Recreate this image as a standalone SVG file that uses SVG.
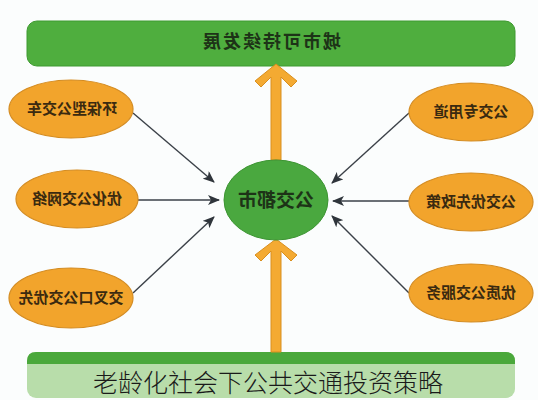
<svg xmlns="http://www.w3.org/2000/svg" width="538" height="400" viewBox="0 0 538 400">
<style>
.cjk{font-family:"Noto Sans CJK SC","Noto Sans CJK TC",sans-serif;}
.node{fill:#f2a42c;stroke:#d48c22;stroke-width:1.2;}
.nt{font-size:15px;font-weight:bold;fill:#3a2a10;text-anchor:middle;}
.conn{stroke:#3b4148;stroke-width:1.4;fill:none;marker-end:url(#ah);}
.bigarrow{fill:#f4aa32;stroke:#d98f1e;stroke-width:1;}
</style>
<defs>
<marker id="ah" markerWidth="12" markerHeight="10" refX="11" refY="5" orient="auto" markerUnits="userSpaceOnUse">
<path d="M0,0 L12,5 L0,10 L3,5 Z" fill="#2f353b"/>
</marker>
</defs>
<rect width="538" height="400" fill="#fbfdfd"/>

<g id="top">
<rect x="27" y="21" width="488" height="45" rx="10" fill="#4fae3e" stroke="#3f9a31" stroke-width="1"/>
<text class="cjk" transform="scale(-1,1)" x="-271" y="48" font-size="18" font-weight="bold" fill="#1d3317" text-anchor="middle" letter-spacing="2">城市可持续发展</text>
</g>

<g id="bottom">
<rect x="27" y="352" width="488" height="46" rx="9" fill="#b8ddaa"/>
<path d="M27,364 L27,361 Q27,352 36,352 L506,352 Q515,352 515,361 L515,364 Z" fill="#4aa83b"/>
<text class="cjk" x="268" y="392" font-size="25" font-weight="300" fill="#1a1a1a" text-anchor="middle">老龄化社会下公共交通投资策略</text>
</g>

<g id="arrows-big">
<path class="bigarrow" d="M271,160 L271,77 L261,87 L255,81 L276,64 L297,81 L291,87 L281,77 L281,160 Z"/>
<path class="bigarrow" d="M271,352 L271,251 L261,261 L255,255 L276,239 L297,255 L291,261 L281,251 L281,352 Z"/>
</g>

<g id="connectors">
<line class="conn" x1="133" y1="113" x2="214" y2="182"/>
<line class="conn" x1="138" y1="200" x2="219" y2="200"/>
<line class="conn" x1="133" y1="293" x2="214" y2="217"/>
<line class="conn" x1="409" y1="113" x2="332" y2="183"/>
<line class="conn" x1="409" y1="201" x2="333" y2="201"/>
<line class="conn" x1="409" y1="293" x2="332" y2="216"/>
</g>

<g id="center">
<ellipse cx="276" cy="200" rx="52" ry="40" fill="#4aa83f" stroke="#3c9432" stroke-width="1"/>
<text class="cjk" transform="scale(-1,1)" x="-276" y="207" font-size="19" font-weight="bold" fill="#1d3317" text-anchor="middle">公交都市</text>
</g>

<g id="n1">
<ellipse class="node" cx="71" cy="109" rx="62" ry="29"/>
<text class="cjk nt" transform="scale(-1,1)" x="-72" y="114">环保型公交车</text>
</g>
<g id="n2">
<ellipse class="node" cx="77" cy="199" rx="61" ry="29"/>
<text class="cjk nt" transform="scale(-1,1)" x="-77" y="204">优化公交网络</text>
</g>
<g id="n3">
<ellipse class="node" cx="71" cy="298" rx="62" ry="30"/>
<text class="cjk nt" transform="scale(-1,1)" x="-71" y="303">交叉口公交优先</text>
</g>
<g id="n4">
<ellipse class="node" cx="471" cy="112" rx="62" ry="29"/>
<text class="cjk nt" transform="scale(-1,1)" x="-471" y="117">公交专用道</text>
</g>
<g id="n5">
<ellipse class="node" cx="471" cy="202" rx="62" ry="29"/>
<text class="cjk nt" transform="scale(-1,1)" x="-471" y="207">公交优先政策</text>
</g>
<g id="n6">
<ellipse class="node" cx="471" cy="293" rx="62" ry="29"/>
<text class="cjk nt" transform="scale(-1,1)" x="-471" y="298">优质公交服务</text>
</g>
</svg>
